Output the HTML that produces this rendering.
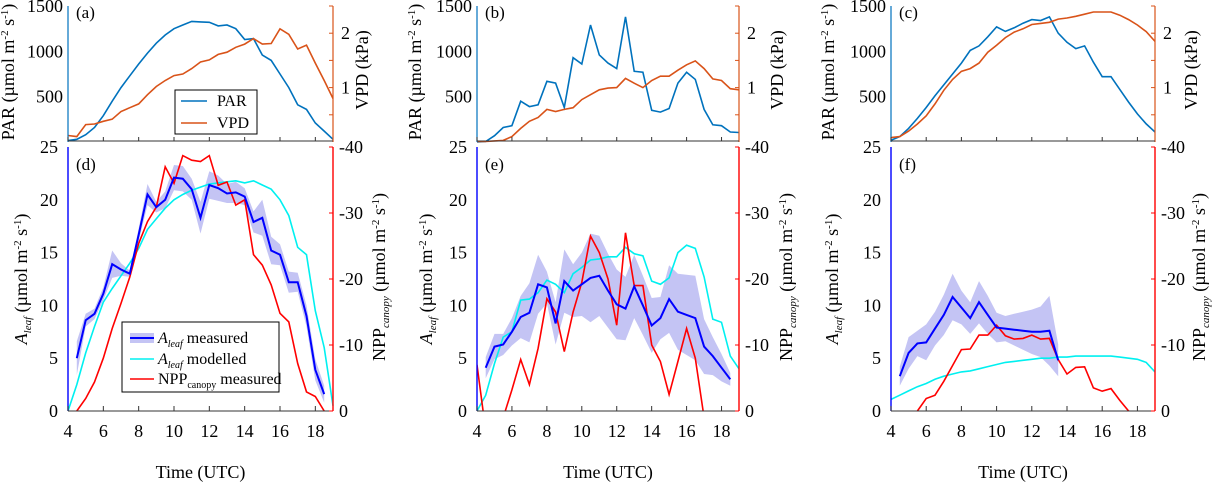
<!DOCTYPE html>
<html><head><meta charset="utf-8"><style>
html,body{margin:0;padding:0;background:#fff;}
svg{display:block;}
svg text{font-family:"Liberation Serif","DejaVu Serif",serif;}
</style></head><body>
<svg id="chart" width="1216" height="482" viewBox="0 0 1216 482" font-family="Liberation Serif, DejaVu Serif, serif"></svg>
<script>
const hours = [4,4.5,5,5.5,6,6.5,7,7.5,8,8.5,9,9.5,10,10.5,11,11.5,12,12.5,13,13.5,14,14.5,15,15.5,16,16.5,17,17.5,18,18.5,19];
const parA = [15,30,80,160,290,450,600,730,860,980,1090,1180,1250,1290,1330,1325,1320,1280,1290,1250,1130,1140,960,900,750,600,410,360,210,120,30];
const vpdA = [0.12,0.1,0.32,0.33,0.38,0.42,0.56,0.63,0.7,0.87,1.02,1.13,1.22,1.25,1.35,1.47,1.51,1.61,1.65,1.74,1.8,1.9,1.8,1.81,2.08,1.98,1.71,1.78,1.45,1.13,0.8];
const parB = [0,5,70,160,180,450,390,410,670,650,380,930,860,1290,960,870,810,1380,780,770,350,330,370,650,770,690,360,190,180,110,105];
const vpdB = [0.01,0.01,0.02,0.03,0.1,0.25,0.38,0.45,0.6,0.56,0.6,0.63,0.78,0.87,0.96,0.99,1.0,1.17,1.08,1.0,1.13,1.21,1.21,1.32,1.42,1.49,1.35,1.16,1.13,0.98,0.96];
const parC = [20,60,150,260,380,510,630,750,870,1010,1060,1160,1270,1220,1260,1310,1350,1340,1380,1200,1100,1030,1060,880,720,720,580,440,310,200,110];
const vpdC = [0.08,0.1,0.2,0.33,0.48,0.7,0.95,1.15,1.3,1.35,1.45,1.65,1.78,1.92,2.02,2.08,2.16,2.18,2.2,2.26,2.28,2.31,2.35,2.39,2.39,2.39,2.33,2.25,2.15,2.03,1.85];
const measHoursD = [4.5,5,5.5,6,6.5,7,7.5,8,8.5,9,9.5,10,10.5,11,11.5,12,12.5,13,13.5,14,14.5,15,15.5,16,16.5,17,17.5,18,18.5];
const aMeasD = [5,8.6,9.2,11.1,13.9,13.4,13.0,16.7,20.5,19.3,20.0,22.1,22.0,21.0,18.3,21.4,21.1,20.6,20.7,20.3,17.9,18.3,15.2,14.8,12.2,12.2,9.0,3.9,1.6];
const aErrD = [1.6,0.6,0.5,0.6,1.3,0.6,0.3,0.6,1.0,0.5,0.8,1.2,1.2,1.0,1.5,1.3,1.2,0.9,1.0,0.8,1.0,1.7,1.3,1.0,1.0,0.9,1.0,1.0,0.8];
const aModD = [0,2.5,5.5,8.0,10.3,11.6,12.8,14.0,15.4,17.2,18.2,19.2,20.0,20.5,20.9,21.2,21.5,21.6,21.7,21.8,21.6,21.8,21.4,21.0,20.0,18.5,15.5,14.8,9.5,6.0,0.5];
const nppHoursD = [4.5,5,5.5,6,6.5,7,7.5,8,8.5,9,9.5,10,10.5,11,11.5,12,12.5,13,13.5,14,14.5,15,15.5,16,16.5,17,17.5,18,18.5];
const nppD = [0,-1.9,-4.4,-8,-12.5,-16.3,-20.3,-25.4,-28.7,-30.9,-37,-34.5,-38.7,-38,-37.8,-38.7,-34.2,-34.7,-31.2,-32,-23.7,-22.1,-19.1,-14.8,-13.5,-7.2,-2.9,-2.2,0];
const measHoursE = [4.5,5,5.5,6,6.5,7,7.5,8,8.5,9,9.5,10,10.5,11,11.5,12,12.5,13,13.5,14,14.5,15,15.5,16,16.5,17,17.5,18,18.5];
const aMeasE = [4.1,6.1,6.3,7.5,8.9,9.3,12.0,11.7,8.3,12.3,11.4,12.0,12.6,12.8,11.4,10.1,9.7,11.8,10.0,8.1,8.8,10.6,9.4,9.1,8.8,6.1,5.2,4.1,3.0];
const aErrE = [1.0,1.2,1.0,1.3,2.0,2.8,2.8,1.5,2.0,3.0,2.5,3.0,4.2,3.8,3.5,3.3,3.0,3.0,2.8,2.6,2.0,3.2,3.6,3.8,4.0,2.6,1.8,1.3,0.6];
const aModE = [0,1.5,4.5,7.0,7.5,10.5,10.6,11.2,12.4,12.0,11.2,13.0,13.6,14.3,14.4,14.6,14.6,15.5,14.9,14.7,12.3,12.0,12.6,15.0,15.7,15.4,12.7,8.7,8.4,5.2,4.0];
const nppHoursE = [4,4.5,5,5.5,6,6.5,7,7.5,8,8.5,9,9.5,10,10.5,11,11.5,12,12.5,13,13.5,14,14.5,15,15.5,16,16.5,17];
const nppE = [-7,3,4,1,-3.2,-7.8,-4,-9.5,-17,-15,-9,-15,-19.5,-26.5,-24,-20,-13,-27,-19,-19,-10,-7.5,-2.5,-7.5,-12.5,-8,1];
const measHoursF = [4.5,5,5.5,6,6.5,7,7.5,8,8.5,9,9.5,10,10.5,11,11.5,12,12.5,13,13.5];
const aMeasF = [3.3,5.5,6.4,6.5,7.8,9.1,10.8,9.8,8.8,10.3,9.1,7.9,7.8,7.7,7.6,7.5,7.5,7.6,4.8];
const aErrF = [0.9,1.5,1.2,1.7,1.6,1.9,2.2,1.6,1.5,2.0,1.8,1.4,1.2,1.5,1.8,2.1,2.4,3.3,1.5];
const aModF = [1.1,1.5,1.9,2.3,2.6,3.0,3.3,3.5,3.7,3.8,4.0,4.2,4.4,4.6,4.7,4.8,4.9,5.0,5.0,5.1,5.1,5.2,5.2,5.2,5.2,5.2,5.1,5.0,4.9,4.6,3.7];
const nppHoursF = [4,4.5,5,5.5,6,6.5,7,7.5,8,8.5,9,9.5,10,10.5,11,11.5,12,12.5,13,13.5,14,14.5,15,15.5,16,16.5,17,17.5,18];
const nppF = [0.2,2,2,0,-1.9,-2.4,-4.5,-6.9,-9.3,-9.4,-11.5,-11.5,-13.0,-11.4,-10.9,-11.0,-11.5,-10.9,-11.0,-7.8,-5.6,-6.6,-6.7,-3.5,-3.0,-3.4,-1.6,0,0.5];
const xTicks = [4,6,8,10,12,14,16,18];
const parTicks = [500,1000,1500];
const vpdTicks = [1,2];
const aTicks = [0,5,10,15,20,25];
const nppTicks = [0,-10,-20,-30,-40];

const svg = document.getElementById('chart');
const NS = 'http://www.w3.org/2000/svg';
const FF = '"Liberation Serif","DejaVu Serif",serif';
function mk(tag, attrs, parent){const e=document.createElementNS(NS,tag);for(const k in attrs)e.setAttribute(k,attrs[k]);if(tag==='text')e.style.fontFamily=FF;(parent||svg).appendChild(e);return e;}
const TOP0=142, TOP1=6, BOT0=411, BOT1=147;
const panels = [
 {x0:68,x1:333,tl:'(a)',bl:'(d)',par:parA,vpd:vpdA,mh:measHoursD,am:aMeasD,ae:aErrD,amod:aModD,nh:nppHoursD,npp:nppD,parT:14,vpdT:368,aT:27,nT:385,name:'a'},
 {x0:477,x1:739,tl:'(b)',bl:'(e)',par:parB,vpd:vpdB,mh:measHoursE,am:aMeasE,ae:aErrE,amod:aModE,nh:nppHoursE,npp:nppE,parT:421,vpdT:783,aT:432,nT:792,name:'b'},
 {x0:891,x1:1155,tl:'(c)',bl:'(f)',par:parC,vpd:vpdC,mh:measHoursF,am:aMeasF,ae:aErrF,amod:aModF,nh:nppHoursF,npp:nppF,parT:834,vpdT:1197,aT:838,nT:1205,name:'c'}
];
panels.forEach((p,i)=>{
 const X=t=>p.x0+(t-4)/15*(p.x1-p.x0);
 const yP=v=>TOP0-v/1500*(TOP0-TOP1);
 const yV=v=>TOP0-v/2.5*(TOP0-TOP1);
 const yA=v=>BOT0-v/25*(BOT0-BOT1);
 const yN=v=>BOT0-(-v)/40*(BOT0-BOT1);
 const g=mk('g',{});
 
 
 const cid='clip'+i;
 const cp=mk('clipPath',{id:cid},g); mk('rect',{x:p.x0,y:BOT1-5,width:p.x1-p.x0+2,height:BOT0-BOT1+5},cp);
 const pl=(xs,ys,fy)=>xs.map((t,k)=>X(t).toFixed(1)+','+fy(ys[k]).toFixed(1)).join(' ');
 const par=mk('polyline',{points:pl(hours,p.par,yP),fill:'none',stroke:'#0072BD','stroke-width':1.6},g);
 
 
 const vpd=mk('polyline',{points:pl(hours,p.vpd,yV),fill:'none',stroke:'#D95319','stroke-width':1.6},g);
 
 
 mk('line',{x1:p.x0,y1:TOP1,x2:p.x0,y2:TOP0,stroke:'#0072BD','stroke-width':1.2},g);
 mk('line',{x1:p.x1,y1:TOP1,x2:p.x1,y2:TOP0,stroke:'#D95319','stroke-width':1.2},g);
 mk('line',{x1:p.x0,y1:141,x2:p.x1,y2:141,stroke:'#333','stroke-width':1},g);
 [0.5,1,1.5,2,2.5].forEach(v=>mk('line',{x1:p.x1-4,y1:yV(v),x2:p.x1,y2:yV(v),stroke:'#D95319'},g));
 xTicks.forEach(t=>{mk('line',{x1:X(t),y1:141,x2:X(t),y2:137,stroke:'#333'},g);});
 parTicks.forEach(v=>{const e=mk('text',{x:p.x0-5,y:yP(v)+6,'text-anchor':'end','font-size':18},g);e.textContent=v;});
 vpdTicks.forEach(v=>{const e=mk('text',{x:p.x1+8,y:yV(v)+6,'font-size':18},g);e.textContent=v;});
 let e=mk('text',{x:p.x0+8,y:18,'font-size':17},g); e.textContent=p.tl;
 e=mk('text',{transform:`translate(${p.parT},72) rotate(-90)`,'text-anchor':'middle','font-size':18},g);
 e.innerHTML='PAR (µmol m<tspan dy="-6" font-size="11">-2</tspan><tspan dy="6"> s</tspan><tspan dy="-6" font-size="11">-1</tspan><tspan dy="6">)</tspan>';
 
 e=mk('text',{transform:`translate(${p.vpdT},70) rotate(-90)`,'text-anchor':'middle','font-size':18},g); e.textContent='VPD (kPa)';
 const up=p.mh.map((t,k)=>X(t).toFixed(1)+','+yA(p.am[k]+p.ae[k]).toFixed(1));
 const lo=p.mh.map((t,k)=>X(t).toFixed(1)+','+yA(Math.max(0,p.am[k]-p.ae[k])).toFixed(1)).reverse();
 const band=mk('polygon',{points:up.concat(lo).join(' '),fill:'#c4c4f4',stroke:'none'},g);
 
 
 const cy=mk('polyline',{points:pl(hours,p.amod,yA),fill:'none',stroke:'#00f0f0','stroke-width':1.6,'clip-path':`url(#${cid})`},g);
 
 
 const rd=mk('polyline',{points:pl(p.nh,p.npp,yN),fill:'none',stroke:'#ff0000','stroke-width':1.6,'clip-path':`url(#${cid})`},g);
 
 
 const bl=mk('polyline',{points:pl(p.mh,p.am,yA),fill:'none',stroke:'#0000ff','stroke-width':2},g);
 
 
 mk('line',{x1:p.x0,y1:BOT1,x2:p.x0,y2:BOT0,stroke:'#0000ff','stroke-width':1.4},g);
 mk('line',{x1:p.x1,y1:BOT1,x2:p.x1,y2:BOT0,stroke:'#ff0000','stroke-width':1.4},g);
 mk('line',{x1:p.x0,y1:BOT0,x2:p.x1,y2:BOT0,stroke:'#333','stroke-width':1},g);
 nppTicks.forEach(v=>{mk('line',{x1:p.x1-4,y1:yN(v),x2:p.x1,y2:yN(v),stroke:'#ff0000'},g);
   const t=mk('text',{x:p.x1+6,y:yN(v)+6,'font-size':18},g);t.textContent=v;});
 aTicks.forEach(v=>{const t=mk('text',{x:p.x0-10,y:yA(v)+6,'text-anchor':'end','font-size':18},g);t.textContent=v;});
 xTicks.forEach(t=>{mk('line',{x1:X(t),y1:BOT0,x2:X(t),y2:BOT0-5,stroke:'#333'},g);
   const tx=mk('text',{x:X(t),y:437,'text-anchor':'middle','font-size':18},g);tx.textContent=t;});
 e=mk('text',{x:p.x0+8,y:170,'font-size':17},g); e.textContent=p.bl;
 e=mk('text',{x:(p.x0+p.x1)/2,y:478,'text-anchor':'middle','font-size':18},g); e.textContent='Time (UTC)';
 
 e=mk('text',{transform:`translate(${p.aT},279) rotate(-90)`,'text-anchor':'middle','font-size':18},g);
 e.innerHTML='<tspan font-style="italic">A</tspan><tspan font-style="italic" font-size="11" dy="4">leaf</tspan><tspan dy="-4"> (µmol m</tspan><tspan dy="-6" font-size="11">-2</tspan><tspan dy="6"> s</tspan><tspan dy="-6" font-size="11">-1</tspan><tspan dy="6">)</tspan>';
 e=mk('text',{transform:`translate(${p.nT},277) rotate(-90)`,'text-anchor':'middle','font-size':18},g);
 e.innerHTML='NPP<tspan font-style="italic" font-size="11" dy="4">canopy</tspan><tspan dy="-4"> (µmol m</tspan><tspan dy="-6" font-size="11">-2</tspan><tspan dy="6"> s</tspan><tspan dy="-6" font-size="11">-1</tspan><tspan dy="6">)</tspan>';
});
</script>
<svg style="position:absolute;left:0;top:0" width="1216" height="482">
 <g font-size="16">
  <rect x="175" y="90" width="82" height="44" fill="#fff" stroke="#000"/>
  <line x1="181" y1="101" x2="207" y2="101" stroke="#0072BD" stroke-width="1.5"/><text x="217" y="106">PAR</text>
  <line x1="181" y1="123" x2="207" y2="123" stroke="#D95319" stroke-width="1.5"/><text x="217" y="128">VPD</text>
 </g>
 <g font-size="16">
  <rect x="122" y="322" width="157" height="70" fill="#fff" stroke="#000"/>
  <rect x="130" y="333" width="24" height="10" fill="#c4c4f4"/>
  <line x1="130" y1="338" x2="154" y2="338" stroke="#0000ff" stroke-width="2"/>
  <text x="158" y="343"><tspan font-style="italic">A</tspan><tspan font-style="italic" font-size="10" dy="4">leaf</tspan><tspan dy="-4"> measured</tspan></text>
  <line x1="130" y1="359" x2="154" y2="359" stroke="#00f0f0" stroke-width="1.5"/>
  <text x="158" y="364"><tspan font-style="italic">A</tspan><tspan font-style="italic" font-size="10" dy="4">leaf</tspan><tspan dy="-4"> modelled</tspan></text>
  <line x1="130" y1="379" x2="154" y2="379" stroke="#ff0000" stroke-width="1.5"/>
  <text x="158" y="384">NPP<tspan font-size="10" dy="4">canopy</tspan><tspan dy="-4"> measured</tspan></text>
 </g>
</svg>
</body></html>
